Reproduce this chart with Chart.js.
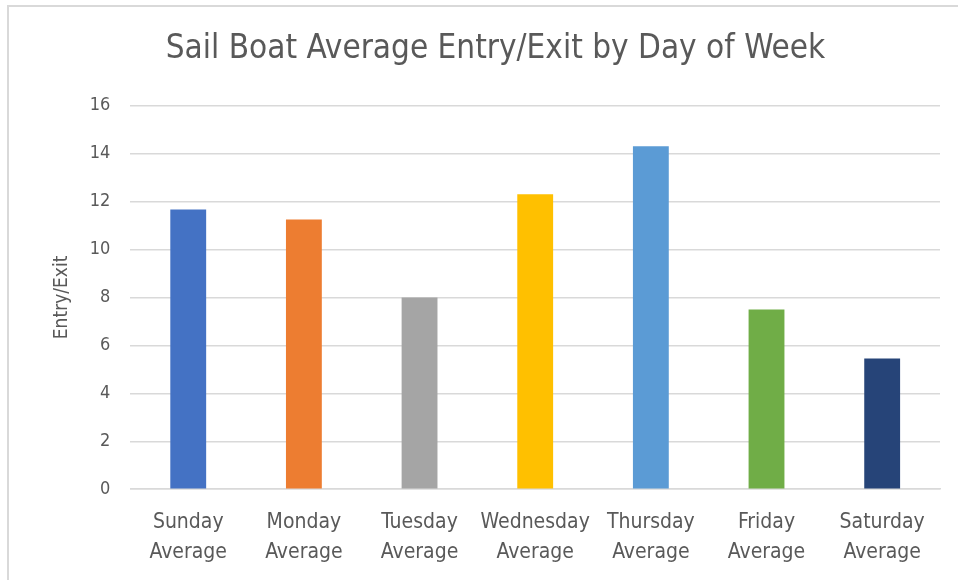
<!DOCTYPE html>
<html>
<head>
<meta charset="utf-8">
<script src="https://cdn.jsdelivr.net/npm/chart.js@4/dist/chart.umd.min.js"></script>
<style>
  html, body { margin: 0; padding: 0; background: #fff; }
  #wrap { position: relative; width: 958px; height: 580px; overflow: hidden; }
  #frame { position: absolute; left: 7px; top: 5px; width: 980px; height: 600px; border-left: 2px solid #d9d9d9; border-top: 2px solid #d9d9d9; }
  canvas { position: absolute; left: 0; top: 0; }
</style>
</head>
<body>
<div id="wrap">
  <div id="frame"></div>
  <canvas id="chart" width="958" height="586"></canvas>
</div>
<script>
const days = [
  ["Sunday", "Average"], ["Monday", "Average"], ["Tuesday", "Average"],
  ["Wednesday", "Average"], ["Thursday", "Average"], ["Friday", "Average"],
  ["Saturday", "Average"]
];
const entryExit = [11.67, 11.25, 8.0, 12.3, 14.3, 7.5, 5.45];
const barColors = ["#4472c4", "#ed7d31", "#a5a5a5", "#ffc000", "#5b9bd5", "#70ad47", "#264478"];

const fontFamily = "'Liberation Sans Narrow', 'DejaVu Sans Condensed', 'Open Sans', sans-serif";
const grey = "#595959";

new Chart(document.getElementById("chart").getContext("2d"), {
  type: "bar",
  data: {
    labels: days,
    datasets: [{
      label: "Entry/Exit",
      data: entryExit,
      backgroundColor: barColors,
      borderWidth: 0,
      barPercentage: 0.31,
      categoryPercentage: 1.0
    }]
  },
  options: {
    responsive: false,
    animation: false,
    layout: { padding: { left: 51, right: 18, top: 20, bottom: 0 } },
    plugins: {
      legend: { display: false },
      tooltip: { enabled: false },
      title: {
        display: true,
        text: "Sail Boat Average Entry/Exit by Day of Week",
        color: grey,
        font: { family: fontFamily, size: 33, weight: "normal" },
        padding: { top: 10, bottom: 36 }
      }
    },
    scales: {
      x: {
        grid: { display: false, drawTicks: false },
        border: { display: true, color: "#d9d9d9", width: 1.5 },
        ticks: {
          color: grey,
          font: { family: fontFamily, size: 21, lineHeight: 1.4 },
          padding: 19,
          maxRotation: 0
        }
      },
      y: {
        min: 0,
        max: 16,
        grid: { color: "#d9d9d9", lineWidth: 1.5, drawTicks: false },
        border: { display: false },
        ticks: {
          stepSize: 2,
          color: grey,
          font: { family: fontFamily, size: 18 },
          padding: 20
        },
        title: {
          display: true,
          text: "Entry/Exit",
          color: grey,
          font: { family: fontFamily, size: 19 },
          padding: { top: 0, bottom: -4 }
        }
      }
    }
  }
});
</script>
</body>
</html>
